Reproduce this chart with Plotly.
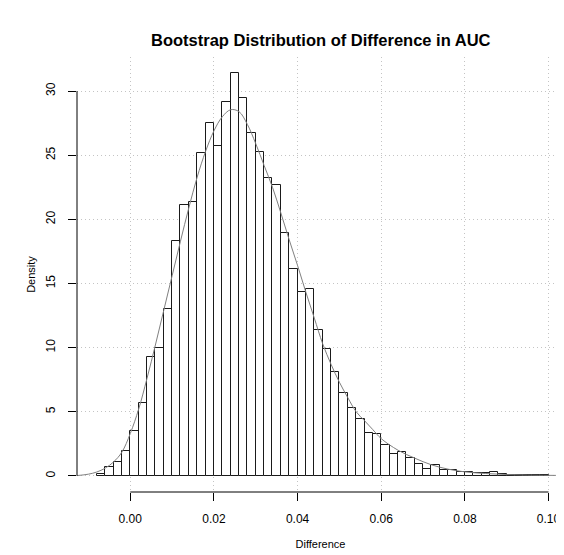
import plotly.graph_objects as go

# ---- data ----
bin_width = 0.002
bin_left = [-0.008, -0.006, -0.004, -0.002, 0.000, 0.002, 0.004, 0.006, 0.008, 0.010,
            0.012, 0.014, 0.016, 0.018, 0.020, 0.022, 0.024, 0.026, 0.028, 0.030,
            0.032, 0.034, 0.036, 0.038, 0.040, 0.042, 0.044, 0.046, 0.048, 0.050,
            0.052, 0.054, 0.056, 0.058, 0.060, 0.062, 0.064, 0.066, 0.068, 0.070,
            0.072, 0.074, 0.076, 0.078, 0.080, 0.082, 0.084, 0.086, 0.088, 0.090,
            0.092, 0.094, 0.096, 0.098]
bin_density = [0.12, 0.70, 1.05, 1.93, 3.52, 5.68, 9.24, 10.0, 12.98, 18.35,
               21.1, 21.34, 25.18, 27.52, 25.75, 29.15, 31.4, 29.47, 26.77, 25.26,
               23.26, 22.69, 18.9, 16.1, 14.33, 14.56, 11.37, 9.86, 8.1, 6.49,
               5.32, 4.41, 3.38, 3.27, 2.4, 1.71, 1.87, 1.4, 0.91, 0.54,
               0.83, 0.49, 0.47, 0.31, 0.29, 0.2, 0.22, 0.3, 0.15, 0.1,
               0.08, 0.06, 0.1, 0.05]

curve_x = [-0.0127, -0.010, -0.008, -0.006, -0.004, -0.002, 0.000, 0.002, 0.004, 0.006,
           0.008, 0.010, 0.012, 0.014, 0.016, 0.018, 0.020, 0.022, 0.024, 0.026,
           0.028, 0.030, 0.032, 0.034, 0.036, 0.038, 0.040, 0.042, 0.044, 0.046,
           0.048, 0.050, 0.052, 0.054, 0.056, 0.058, 0.060, 0.064, 0.068, 0.072,
           0.076, 0.080, 0.085, 0.090, 0.095, 0.100, 0.1037]
curve_y = [0.02, 0.13, 0.3, 0.6, 1.08, 1.85, 3.3, 5.2, 7.6, 10.2,
           12.9, 15.6, 18.3, 20.9, 23.3, 25.3, 26.9, 28.0, 28.55, 28.4,
           27.4, 25.9, 24.2, 22.5, 20.5, 18.4, 16.4, 14.3, 12.3, 10.3,
           8.7, 7.3, 6.1, 5.0, 4.3, 3.6, 2.9, 2.0, 1.38, 0.86,
           0.52, 0.31, 0.18, 0.1, 0.06, 0.04, 0.03]

x_ticks = [0.00, 0.02, 0.04, 0.06, 0.08, 0.10]
y_ticks = [0, 5, 10, 15, 20, 25, 30]

title_text = "Bootstrap Distribution of Difference in AUC"
x_title = "Difference"
y_title = "Density"

FONT = "Liberation Sans, Arial, Helvetica, sans-serif"
# the page body adds an 8px margin, so the figure is made 8px smaller and shifted
W, H = 556, 547
ML, MR, MT, MB = 69, 0, 49, 63
PH = H - MT - MB
TITLE_Y = 32  # title centre, figure pixels from top

fig = go.Figure()
fig.add_trace(go.Bar(
    x=bin_left, y=bin_density, width=bin_width, offset=0,
    marker=dict(color="white", line=dict(color="#1a1a1a", width=1)),
    showlegend=False, hoverinfo="skip"))
fig.add_trace(go.Scatter(
    x=curve_x, y=curve_y, mode="lines", line=dict(color="#808080", width=1, shape="spline"),
    showlegend=False, hoverinfo="skip"))

# R-style axis lines spanning only the tick range
fig.add_shape(type="line", xref="paper", yref="y", x0=0, x1=0, y0=y_ticks[0], y1=y_ticks[-1],
              line=dict(color="black", width=1))
fig.add_shape(type="line", xref="x", yref="paper", x0=x_ticks[0], x1=x_ticks[-1], y0=0, y1=0,
              line=dict(color="black", width=1))

# title as annotation for exact placement
fig.add_annotation(text="<b>" + title_text + "</b>", xref="paper", yref="paper",
                   x=0.5, y=1 + (MT - TITLE_Y) / PH, xanchor="center", yanchor="middle",
                   showarrow=False, font=dict(size=16.5, family=FONT, color="black"))

grid_style = dict(showgrid=True, gridcolor="#c4c4c4", griddash="1px,3px", gridwidth=1)

fig.update_layout(
    width=W, height=H,
    margin=dict(l=ML, r=MR, t=MT, b=MB, autoexpand=False),
    paper_bgcolor="white", plot_bgcolor="white",
    font=dict(family=FONT, color="black", size=12),
    bargap=0,
    xaxis=dict(range=[-0.01274, 0.1037], tickmode="array", tickvals=x_ticks,
               ticktext=[f"{v:.2f}" for v in x_ticks], automargin=False,
               ticks="outside", ticklen=8, tickcolor="black", tickwidth=1,
               showline=False, zeroline=False, **grid_style,
               tickfont=dict(size=12), ticklabelstandoff=8,
               title=dict(text=x_title, font=dict(size=11), standoff=14)),
    yaxis=dict(range=[-1.26, 32.66], tickmode="array", tickvals=y_ticks,
               ticktext=[str(v) for v in y_ticks], tickangle=-90, automargin=False,
               ticks="outside", ticklen=8, tickcolor="black", tickwidth=1,
               showline=False, zeroline=False, **grid_style,
               tickfont=dict(size=12), ticklabelstandoff=8,
               title=dict(text=y_title, font=dict(size=11), standoff=6)),
)

fig.write_html("out.html")
